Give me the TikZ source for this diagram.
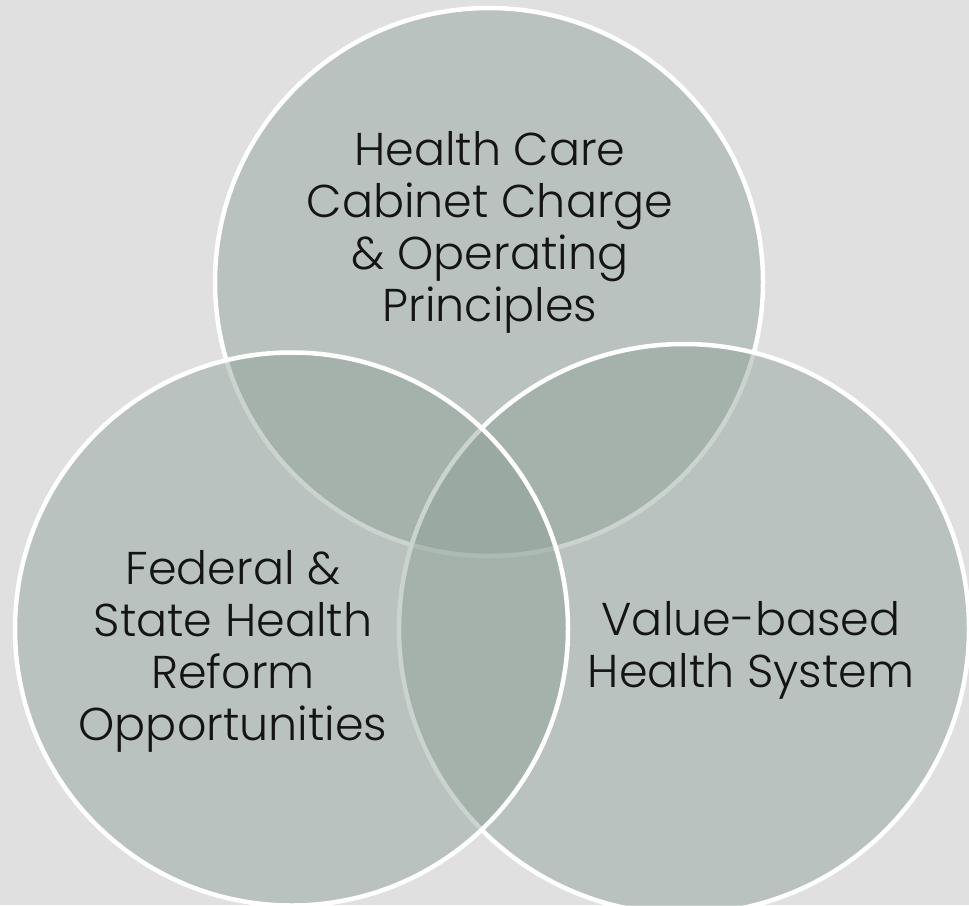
\documentclass[tikz,border=0pt]{standalone}
\usepackage{fontspec}
\setmainfont{Poppins Light}
\definecolor{bgc}{HTML}{E0E0E0}
\definecolor{vfill}{RGB}{143,162,152}
\definecolor{txt}{HTML}{141414}
\begin{document}
\begin{tikzpicture}[x=1pt,y=-1pt,
  venn/.style={circle, draw=white, line width=4.5pt, fill=vfill, fill opacity=0.47, inner sep=0pt},
  label/.style={anchor=base, align=center, inner sep=0pt, text=txt,
    font=\fontsize{46}{52}\selectfont}]
\fill[bgc] (0,0) rectangle (969,905);
\useasboundingbox (0,0) rectangle (969,905);
\node[venn, minimum size=548pt] (top) at (489,282) {};
\node[venn, minimum size=570pt] (right) at (684,629) {};
\node[venn, minimum size=553pt] (left) at (291.5,629) {};
\node[label] (toptext) at (490,321) {Health Care\\Cabinet Charge\\\& Operating\\Principles};
\node[label] (lefttext) at (233,740) {Federal \&\\State Health\\Reform\\Opportunities};
\node[label] (righttext) at (751,687) {Value-based\\Health System};
\end{tikzpicture}
\end{document}
